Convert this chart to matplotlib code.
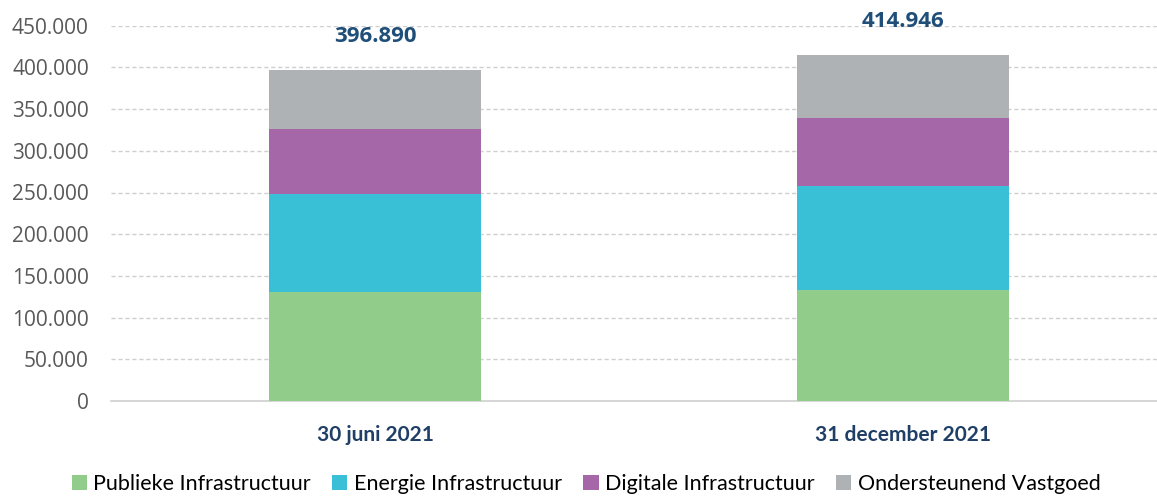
import matplotlib
matplotlib.use("Agg")
import matplotlib.pyplot as plt
from matplotlib.ticker import FuncFormatter
from matplotlib.patches import Patch

categories = ["30 juni 2021", "31 december 2021"]
series_names = ["Publieke Infrastructuur", "Energie Infrastructuur",
                "Digitale Infrastructuur", "Ondersteunend Vastgoed"]
publieke = [131100, 132700]
energie = [117700, 124900]
digitale = [76800, 81900]
vastgoed = [71290, 75446]
totals = [396890, 414946]
total_labels = ["396.890", "414.946"]
colors = ["#92CC8B", "#39C0D7", "#A667A8", "#AFB2B5"]

W, H = 1157, 496
fig = plt.figure(figsize=(W / 100, H / 100), dpi=100)
ax = fig.add_axes([111 / W, (H - 401) / H, (W - 111) / W, (401 - 25.7) / H])

x = list(range(len(categories)))
bottom = [0, 0]
for vals, col, name in zip([publieke, energie, digitale, vastgoed], colors, series_names):
    ax.bar(x, vals, width=0.4, bottom=bottom, color=col, label=name, zorder=3)
    bottom = [b + v for b, v in zip(bottom, vals)]

ax.set_ylim(0, 450000)
ax.set_xlim(-0.5, 1.481)
ax.set_yticks(range(0, 450001, 50000))
ax.yaxis.set_major_formatter(FuncFormatter(lambda v, p: f"{int(v):,}".replace(",", ".")))
ax.grid(axis="y", color="#CFCFCF", linestyle=(0, (3, 2)), linewidth=1.0, zorder=0)
for s in ["top", "right", "left"]:
    ax.spines[s].set_visible(False)
ax.spines["bottom"].set_color("#D0D0D0")
ax.spines["bottom"].set_linewidth(1.2)
ax.tick_params(axis="y", length=0, pad=16, labelsize=15, labelcolor="#595959")
ax.tick_params(axis="x", length=0, pad=17)
for t in ax.get_yticklabels():
    t.set_fontfamily("Open Sans")

ax.set_xticks(x)
ax.set_xticklabels(categories, fontsize=15, fontweight="bold", color="#1F3F66",
                   family="Lato")

for xi, tot, lab in zip(x, totals, total_labels):
    ax.annotate(lab, (xi, tot), xytext=(0, 24), textcoords="offset points",
                ha="center", va="center", fontsize=16, fontweight="bold",
                color="#1F4E79", family="Open Sans", annotation_clip=False)

handles = [Patch(facecolor=c, edgecolor="none") for c in colors]
fig.legend(handles, series_names, loc="center", bbox_to_anchor=(586 / W, 1 - 484 / H),
           ncol=4, frameon=False, handlelength=0.7, handleheight=0.7, handletextpad=0.3,
           columnspacing=1.0, prop={"family": "Lato", "size": 15.5})

fig.savefig("out.png", dpi=100)
